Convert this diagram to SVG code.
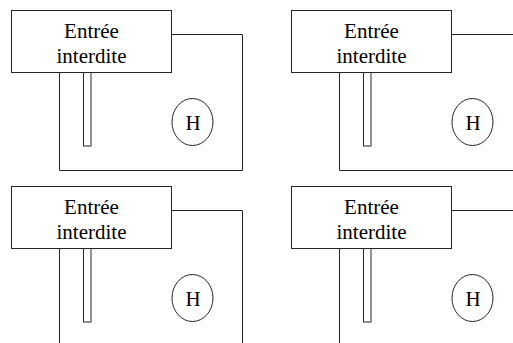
<svg xmlns="http://www.w3.org/2000/svg" width="513" height="343" viewBox="0 0 513 343">
  <style>
    .ln { fill: none; stroke: #262626; stroke-width: 1; }
    .sign { fill: #ffffff; stroke: #262626; stroke-width: 1; }
    .post { fill: #ffffff; stroke: #262626; stroke-width: 1; }
    .txt { font-family: "Liberation Serif", "DejaVu Serif", serif; font-size: 21px; fill: #000000; text-anchor: middle; }
  </style>
  <rect width="513" height="343" fill="#ffffff"/>

  <!-- enclosure outlines (fence lines) -->
  <g id="connectors">
    <path class="ln" d="M171.5,34.5 H242.5 V170.5 H59.5 V72.5"/>
    <path class="ln" d="M451.5,34.5 H522.5 V170.5 H339.5 V72.5"/>
    <path class="ln" d="M171.5,210.5 H242.5 V346.5 H59.5 V248.5"/>
    <path class="ln" d="M451.5,210.5 H522.5 V346.5 H339.5 V248.5"/>
  </g>

  <!-- sign on post, with helipad marker -->
  <g id="panel-1">
    <rect class="post" x="83.5" y="72.5" width="7.5" height="73.5"/>
    <rect class="sign" x="11.5" y="10.5" width="160" height="62"/>
    <text class="txt" x="91.5" y="37.5">Entrée</text>
    <text class="txt" x="91.5" y="62.5">interdite</text>
    <ellipse class="ln" cx="192.5" cy="122" rx="20.5" ry="23.5"/>
    <text class="txt" x="193" y="130">H</text>
  </g>

  <g id="panel-2">
    <rect class="post" x="363.5" y="72.5" width="7.5" height="73.5"/>
    <rect class="sign" x="291.5" y="10.5" width="160" height="62"/>
    <text class="txt" x="371.5" y="37.5">Entrée</text>
    <text class="txt" x="371.5" y="62.5">interdite</text>
    <ellipse class="ln" cx="472.5" cy="122" rx="20.5" ry="23.5"/>
    <text class="txt" x="473" y="130">H</text>
  </g>

  <g id="panel-3">
    <rect class="post" x="83.5" y="248.5" width="7.5" height="73.5"/>
    <rect class="sign" x="11.5" y="186.5" width="160" height="62"/>
    <text class="txt" x="91.5" y="213.5">Entrée</text>
    <text class="txt" x="91.5" y="238.5">interdite</text>
    <ellipse class="ln" cx="192.5" cy="298" rx="20.5" ry="23.5"/>
    <text class="txt" x="193" y="306">H</text>
  </g>

  <g id="panel-4">
    <rect class="post" x="363.5" y="248.5" width="7.5" height="73.5"/>
    <rect class="sign" x="291.5" y="186.5" width="160" height="62"/>
    <text class="txt" x="371.5" y="213.5">Entrée</text>
    <text class="txt" x="371.5" y="238.5">interdite</text>
    <ellipse class="ln" cx="472.5" cy="298" rx="20.5" ry="23.5"/>
    <text class="txt" x="473" y="306">H</text>
  </g>
</svg>
